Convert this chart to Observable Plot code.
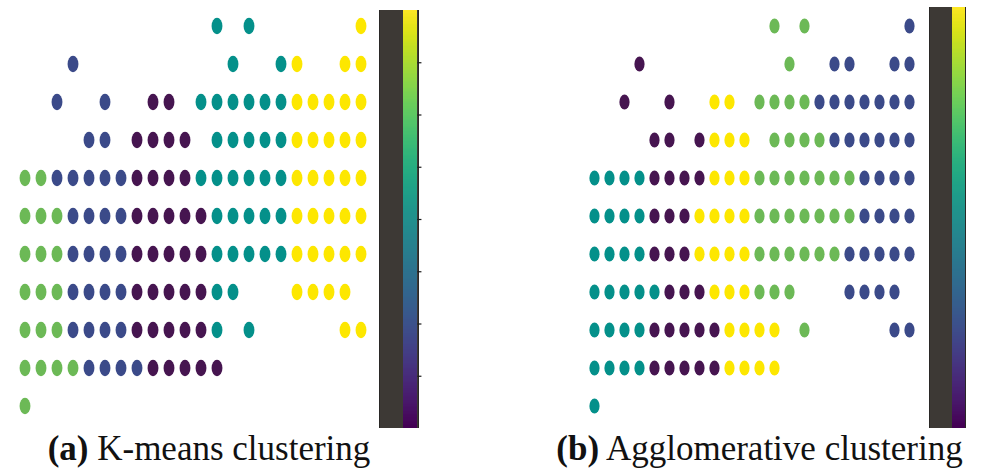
<!DOCTYPE html>
<html>
<head>
<meta charset="utf-8">
<script src="https://cdn.jsdelivr.net/npm/d3@7"></script>
<script src="https://cdn.jsdelivr.net/npm/@observablehq/plot@0.6"></script>
<style>
  html, body { margin: 0; padding: 0; background: #fff; }
  #root { position: relative; width: 986px; height: 472px; overflow: hidden; background: #fff; }
  .abs { position: absolute; }
  .bar { position: absolute; background: #3d3935; box-sizing: border-box; border-left: 1px solid #2a2826; border-right: 1px solid #2a2826; }
  .cap { position: absolute; font-family: "Liberation Serif", "Times New Roman", serif; font-size: 35px; line-height: 35px; color: #111; white-space: nowrap; }
  .cap b { font-weight: bold; }
</style>
</head>
<body>
<div id="root"></div>
<script>
// ---- data ----
// cluster id per grid cell, rows top to bottom, 22 columns; "." = no point
const clusterIds = [0, 1, 2, 3, 4];
const clusterColors = ["#461550", "#3b4a89", "#04908a", "#6cb956", "#fde700"];

const kmeansRows = [
  "............2.2......4",
  "...1.........2..24..44",
  "..1..1..00.22222244444",
  "....11.0000.2222244444",
  "3311111000022222244444",
  "3331111000002222244444",
  "3331111000002222244444",
  "33311110000022...4444.",
  "3331111000002.2.....44",
  "3333111100000.........",
  "3....................."
];

const agglomerativeRows = [
  "............3.3......1",
  "...0.........3..11..11",
  "..0..0..44.33331111111",
  "....00.0444.3333111111",
  "2222000044433333331111",
  "2222000444433333331111",
  "2222000444433333311111",
  "22222000444333...1111.",
  "2222000004444.3.....11",
  "2222000004444.........",
  "2....................."
];

const captions = [
  {label: "(a)", text: " K-means clustering"},
  {label: "(b)", text: " Agglomerative clustering"}
];

const colorbarDomain = [0, 4];
const colorbarTicks = [0.5, 1, 1.5, 2, 2.5, 3, 3.5];

// ---- helpers ----
function toCells(rows) {
  const out = [];
  rows.forEach((r, row) => {
    [...r].forEach((ch, col) => {
      if (ch !== ".") out.push({row, col, cluster: +ch});
    });
  });
  return out;
}

const nCols = kmeansRows[0].length;
const nRows = kmeansRows.length;

function gridPlot(cells, opts) {
  return Plot.plot({
    width: opts.width, height: opts.height,
    marginLeft: opts.ml, marginRight: opts.mr, marginTop: opts.mt, marginBottom: opts.mb,
    x: {type: "band", domain: d3.range(nCols), padding: 0, axis: null},
    y: {type: "band", domain: d3.range(nRows), padding: 0, axis: null},
    color: {type: "ordinal", domain: clusterIds, range: clusterColors},
    style: {background: "transparent"},
    marks: [
      Plot.cell(cells, {
        x: "col", y: "row", fill: "cluster",
        insetLeft: opts.ix, insetRight: opts.ix, insetTop: opts.iy, insetBottom: opts.iy,
        rx: 8, ry: 10
      })
    ]
  });
}

function colorbarPlot(opts) {
  const n = 300;
  const step = (colorbarDomain[1] - colorbarDomain[0]) / n;
  const stops = d3.range(n).map(i => colorbarDomain[0] + i * step);
  const marks = [
    Plot.rect(stops, {
      x1: 0, x2: 1, y1: d => d, y2: d => d + step * 1.02,
      fill: d => d, shapeRendering: "crispEdges"
    })
  ];
  if (opts.ticks) {
    marks.push(Plot.ruleY(colorbarTicks, {y: d => d, x1: 1, x2: opts.tickEnd, stroke: "#1a1a1a", strokeWidth: 1.2}));
  }
  return Plot.plot({
    width: opts.width, height: opts.height,
    marginLeft: 0, marginRight: opts.mr, marginTop: 0, marginBottom: 0,
    x: {domain: [0, 1], axis: null},
    y: {domain: colorbarDomain, axis: null},
    color: {type: "linear", scheme: "viridis", domain: colorbarDomain},
    style: {background: "transparent", overflow: "visible"},
    marks
  });
}

// ---- layout ----
const root = document.getElementById("root");
function place(el, left, top) {
  const wrap = document.createElement("div");
  wrap.className = "abs";
  wrap.style.left = left + "px";
  wrap.style.top = top + "px";
  wrap.appendChild(el);
  root.appendChild(wrap);
  return wrap;
}
function bar(left, top, w, h) {
  const d = document.createElement("div");
  d.className = "bar";
  d.style.left = left + "px"; d.style.top = top + "px";
  d.style.width = w + "px"; d.style.height = h + "px";
  root.appendChild(d);
}

// panel (a)
place(gridPlot(toCells(kmeansRows), {
  width: 371, height: 429, ml: 16.3, mr: 0.5, mt: 4, mb: 0.4, ix: 2.55, iy: 10.8
}), 0, 0);
bar(379, 10, 40, 418);
place(colorbarPlot({width: 19, height: 418, mr: 4.6, ticks: true, tickEnd: 1.28}), 403.3, 10);

// panel (b)
place(gridPlot(toCells(agglomerativeRows), {
  width: 338, height: 430, ml: 0, mr: 0.3, mt: 2.6, mb: 0.6, ix: 2.4, iy: 11.4
}), 583, 0);
bar(929, 7, 37, 421);
place(colorbarPlot({width: 12.7, height: 421, mr: 0, ticks: false}), 952.3, 7);

// captions
const capCenters = [209, 759.5];
captions.forEach((c, i) => {
  const d = document.createElement("div");
  d.className = "cap";
  const b = document.createElement("b");
  b.textContent = c.label;
  d.appendChild(b);
  d.appendChild(document.createTextNode(c.text));
  root.appendChild(d);
  const w = d.getBoundingClientRect().width;
  d.style.left = (capCenters[i] - w / 2) + "px";
  d.style.top = "431px";
});
</script>
</body>
</html>
